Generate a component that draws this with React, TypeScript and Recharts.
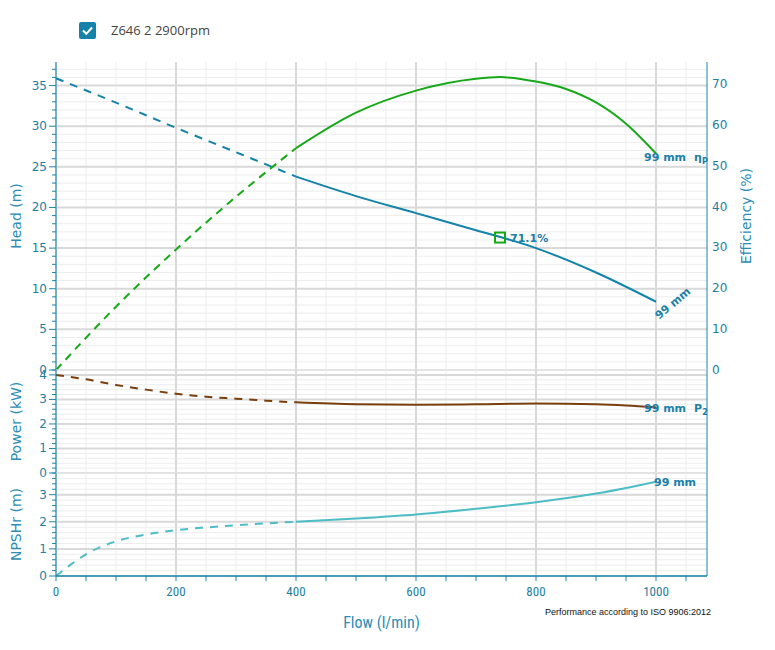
import React from "react";
import {
  CartesianGrid,
  ComposedChart,
  Line,
  LineChart,
  Scatter,
  XAxis,
  YAxis,
} from "recharts";

// curve readings (flow in l/min)
const headDashedFlow = [0, 100, 200, 300, 400];
const headDashedM = [35.9, 32.9, 29.8, 26.8, 23.8];
const headSolidFlow = [400, 500, 600, 700, 800, 900, 1000];
const headSolidM = [23.8, 21.4, 19.3, 17.2, 15.0, 12.0, 8.4];

const effDashedFlow = [0, 100, 200, 300, 400];
const effDashedPct = [0, 15.5, 29.5, 42.4, 54.3];
const effSolidFlow = [400, 500, 600, 700, 740, 800, 850, 900, 950, 1000];
const effSolidPct = [54.3, 63.0, 68.4, 71.3, 71.7, 70.6, 68.8, 65.5, 60.3, 53.0];

const powerDashedFlow = [0, 50, 100, 150, 200, 250, 300, 350, 400];
const powerDashedKw = [4.0, 3.82, 3.59, 3.4, 3.23, 3.11, 3.03, 2.95, 2.88];
const powerSolidFlow = [400, 500, 600, 700, 800, 900, 950, 1000];
const powerSolidKw = [2.88, 2.8, 2.78, 2.8, 2.83, 2.8, 2.75, 2.67];

const npshDashedFlow = [0, 25, 50, 100, 150, 200, 250, 300, 350, 400];
const npshDashedM = [0, 0.43, 0.8, 1.28, 1.53, 1.69, 1.79, 1.87, 1.94, 2.0];
const npshSolidFlow = [400, 500, 600, 700, 800, 900, 1000];
const npshSolidM = [2.0, 2.12, 2.27, 2.48, 2.72, 3.04, 3.48];

const bepFlow = [740];
const bepHead = [16.3];
const bepLabel = "71.1%";

const flowMajor = [0, 200, 400, 600, 800, 1000];
const headMajor = [0, 5, 10, 15, 20, 25, 30, 35];
const effTicks = [0, 10, 20, 30, 40, 50, 60, 70];
const powerMajor = [0, 1, 2, 3, 4];
const npshMajor = [0, 1, 2, 3];

const range = (from: number, to: number, step: number) => {
  const out: number[] = [];
  for (let v = from; v <= to + 1e-9; v += step) out.push(Math.round(v * 100) / 100);
  return out;
};
const flowMinor = range(0, 1050, 50);
const headMinor = range(0, 37, 1);
const powerMinor = range(0, 4.2, 0.2);
const npshMinor = range(0, 3.8, 0.2);

const zip = (xs: number[], ys: number[], key: string) =>
  xs.map((flow, i) => ({ flow, [key]: ys[i] }));

const headDashed = zip(headDashedFlow, headDashedM, "v");
const headSolid = zip(headSolidFlow, headSolidM, "v");
const effDashed = zip(effDashedFlow, effDashedPct, "v");
const effSolid = zip(effSolidFlow, effSolidPct, "v");
const powerDashed = zip(powerDashedFlow, powerDashedKw, "v");
const powerSolid = zip(powerSolidFlow, powerSolidKw, "v");
const npshDashed = zip(npshDashedFlow, npshDashedM, "v");
const npshSolid = zip(npshSolidFlow, npshSolidM, "v");
const bep = zip(bepFlow, bepHead, "v");

const AXIS = "#1b87aa";
const TICK = "#1f7ea1";
const TITLE = "#2b8db5";
const LABEL = "#1a80a6";
const HEAD = "#1483aa";
const EFF = "#17a817";
const POWER = "#7a3e0c";
const NPSH = "#4dbdc5";
const GRID_MINOR = "#ededed";
const GRID_MAJOR = "#d9d9d9";
const FLOW_DOMAIN = [0, 1085];
const W = 775;

const isMajor = (v: number, majors: number[]) =>
  majors.some((m) => Math.abs(m - v) < 1e-6);

const emptyTick = () => <g />;

const leftTick = (majors: number[]) => (p: any) => {
  const { x, y, payload } = p;
  const major = isMajor(payload.value, majors);
  return (
    <g>
      <line x1={x - (major ? 7 : 4)} x2={x} y1={y} y2={y} stroke={AXIS} />
      {major && (
        <text x={x - 9} y={y + 4} textAnchor="end" fill={TICK} fontSize={12} fontFamily="DejaVu Sans">
          {payload.value}
        </text>
      )}
    </g>
  );
};

const rightTick = (p: any) => (
  <text x={p.x + 5} y={p.y + 4} fill={TICK} fontSize={12} fontFamily="DejaVu Sans">
    {p.payload.value}
  </text>
);

const flowTick = (p: any) => {
  const { x, y, payload } = p;
  const major = isMajor(payload.value, flowMajor);
  return (
    <g>
      <line x1={x} x2={x} y1={y} y2={y + 5} stroke={AXIS} />
      {major && (
        <text x={x} y={y + 20} textAnchor="middle" fill={TICK} fontSize={13}
          fontFamily="'Liberation Sans Narrow', 'Roboto Condensed', Roboto">
          {payload.value}
        </text>
      )}
    </g>
  );
};

const axisTitle = (text: string, dx: number) => (p: any) => {
  const vb = p.viewBox;
  const cx = vb.x + dx;
  const cy = vb.y + vb.height / 2;
  return (
    <text x={cx} y={cy} transform={`rotate(-90, ${cx}, ${cy})`} textAnchor="middle"
      dominantBaseline="central" fill={TITLE} fontSize={14} fontFamily="DejaVu Sans">
      {text}
    </text>
  );
};

const endLabel = (count: number, render: (x: number, y: number) => React.ReactNode) =>
  (p: any) => (p.index === count - 1 ? <g key="end">{render(p.x, p.y)}</g> : <g key={p.index} />);

const boldText = { fill: LABEL, fontSize: 11, fontWeight: 700, fontFamily: "DejaVu Sans" };

const grids = (yId: string | number, hMinor: number[], hMajor: number[]) => [
  <CartesianGrid key="gmin" yAxisId={yId} stroke={GRID_MINOR} strokeWidth={1}
    horizontalValues={hMinor} verticalValues={flowMinor} />,
  <CartesianGrid key="gmaj" yAxisId={yId} stroke={GRID_MAJOR} strokeWidth={2}
    horizontalValues={hMajor} verticalValues={flowMajor} />,
];

function HeadPanel() {
  return (
    <ComposedChart width={W} height={390} margin={{ top: 62, right: 0, bottom: 20, left: 0 }}>
      {grids("head", headMinor, headMajor)}
      <XAxis dataKey="flow" type="number" domain={FLOW_DOMAIN} ticks={flowMinor} interval={0}
        height={0} tickSize={0} tick={emptyTick} tickLine={false}
        axisLine={{ stroke: AXIS, strokeWidth: 2 }} />
      <XAxis xAxisId="top" orientation="top" dataKey="flow" type="number" domain={FLOW_DOMAIN}
        height={0} tick={false} tickLine={false} axisLine={{ stroke: AXIS }} />
      <YAxis yAxisId="head" type="number" domain={[0, 37.9]} ticks={headMinor} interval={0}
        width={56} tickSize={0} tickMargin={0} tickLine={false} tick={leftTick(headMajor)}
        axisLine={{ stroke: AXIS }} label={{ content: axisTitle("Head (m)", 16) } as any} />
      <YAxis yAxisId="eff" orientation="right" type="number" domain={[0, 75.4]} ticks={effTicks}
        interval={0} width={68} tickSize={0} tickMargin={0} tickLine={false} tick={rightTick}
        axisLine={{ stroke: AXIS }} label={{ content: axisTitle("Efficiency (%)", 39) } as any} />
      <Line yAxisId="eff" data={effDashed} dataKey="v" type="monotone" stroke={EFF} strokeWidth={2}
        strokeDasharray="8 6" dot={false} isAnimationActive={false} />
      <Line yAxisId="eff" data={effSolid} dataKey="v" type="monotone" stroke={EFF} strokeWidth={2}
        dot={false} isAnimationActive={false}
        label={endLabel(effSolid.length, (x, y) => (
          <text x={x - 12} y={y + 7} {...boldText}>
            99 mm
            <tspan dx={8}>η</tspan>
            <tspan fontSize={8} dy={3}>P</tspan>
          </text>
        ))} />
      <Line yAxisId="head" data={headDashed} dataKey="v" type="monotone" stroke={HEAD} strokeWidth={2}
        strokeDasharray="8 7" dot={false} isAnimationActive={false} />
      <Line yAxisId="head" data={headSolid} dataKey="v" type="monotone" stroke={HEAD} strokeWidth={2}
        dot={false} isAnimationActive={false}
        label={endLabel(headSolid.length, (x, y) => (
          <text x={x + 3} y={y + 18} transform={`rotate(-40, ${x + 3}, ${y + 18})`} {...boldText}>
            99 mm
          </text>
        ))} />
      <Scatter yAxisId="head" data={bep} dataKey="v" isAnimationActive={false}
        shape={(p: any) => (
          <g>
            <rect x={p.cx - 5} y={p.cy - 5} width={10} height={10} fill="none" stroke={EFF} strokeWidth={2} />
            <text x={p.cx + 10} y={p.cy + 4} {...boldText}>{bepLabel}</text>
          </g>
        )} />
    </ComposedChart>
  );
}

function PowerPanel() {
  return (
    <LineChart width={W} height={145} margin={{ top: 20, right: 0, bottom: 22, left: 0 }}>
      {grids("pw", powerMinor, powerMajor)}
      <XAxis dataKey="flow" type="number" domain={FLOW_DOMAIN} ticks={flowMinor} interval={0}
        height={0} tickSize={0} tick={emptyTick} tickLine={false}
        axisLine={{ stroke: AXIS, strokeWidth: 2 }} />
      <XAxis xAxisId="top" orientation="top" dataKey="flow" type="number" domain={FLOW_DOMAIN}
        height={0} tick={false} tickLine={false} axisLine={{ stroke: AXIS, strokeWidth: 2 }} />
      <YAxis yAxisId="pw" type="number" domain={[0, 4.2]} ticks={powerMinor} interval={0}
        width={56} tickSize={0} tickMargin={0} tickLine={false} tick={leftTick(powerMajor)}
        axisLine={{ stroke: AXIS }} label={{ content: axisTitle("Power (kW)", 16) } as any} />
      <YAxis yAxisId="r" orientation="right" domain={[0, 1]} width={68} tick={false}
        tickLine={false} axisLine={{ stroke: AXIS }} />
      <Line yAxisId="pw" data={powerDashed} dataKey="v" type="monotone" stroke={POWER} strokeWidth={2}
        strokeDasharray="8 7" dot={false} isAnimationActive={false} />
      <Line yAxisId="pw" data={powerSolid} dataKey="v" type="monotone" stroke={POWER} strokeWidth={2}
        dot={false} isAnimationActive={false}
        label={endLabel(powerSolid.length, (x, y) => (
          <text x={x - 12} y={y + 4} {...boldText}>
            99 mm
            <tspan dx={8}>P</tspan>
            <tspan fontSize={8} dy={3}>2</tspan>
          </text>
        ))} />
    </LineChart>
  );
}

function NpshPanel() {
  return (
    <LineChart width={W} height={197} margin={{ top: 20, right: 0, bottom: 0, left: 0 }}>
      {grids("np", npshMinor, npshMajor)}
      <XAxis dataKey="flow" type="number" domain={FLOW_DOMAIN} ticks={flowMinor} interval={0}
        height={74} tickSize={0} tickMargin={0} tickLine={false} tick={flowTick}
        axisLine={{ stroke: AXIS, strokeWidth: 1.5 }}
        label={{
          content: (p: any) => (
            <text x={p.viewBox.x + p.viewBox.width / 2} y={p.viewBox.y + 52} textAnchor="middle"
              fill={TITLE} fontSize={16} fontFamily="'Liberation Sans Narrow', 'Roboto Condensed', Roboto">
              Flow (l/min)
            </text>
          ),
        } as any} />
      <YAxis yAxisId="np" type="number" domain={[0, 3.8]} ticks={npshMinor} interval={0}
        width={56} tickSize={0} tickMargin={0} tickLine={false} tick={leftTick(npshMajor)}
        axisLine={{ stroke: AXIS }} label={{ content: axisTitle("NPSHr (m)", 16) } as any} />
      <YAxis yAxisId="r" orientation="right" domain={[0, 1]} width={68} tick={false}
        tickLine={false} axisLine={{ stroke: AXIS }} />
      <Line yAxisId="np" data={npshDashed} dataKey="v" type="monotone" stroke={NPSH} strokeWidth={2}
        strokeDasharray="8 7" dot={false} isAnimationActive={false} />
      <Line yAxisId="np" data={npshSolid} dataKey="v" type="monotone" stroke={NPSH} strokeWidth={2}
        dot={false} isAnimationActive={false}
        label={endLabel(npshSolid.length, (x, y) => (
          <text x={x - 2} y={y + 4} {...boldText}>99 mm</text>
        ))} />
    </LineChart>
  );
}

export default function App() {
  return (
    <div style={{ position: "absolute", left: 0, top: 0, width: W, height: 650, background: "#fff" }}>
      <div style={{ position: "absolute", left: 79, top: 22, width: 17, height: 17, borderRadius: 2, background: "#1583a9" }}>
        <svg width={17} height={17}>
          <path d="M4 8.5 L7.3 11.8 L13 5.5" fill="none" stroke="#fff" strokeWidth={2} />
        </svg>
      </div>
      <div style={{ position: "absolute", left: 111, top: 21, fontSize: 13, color: "#444", fontFamily: "'Open Sans', sans-serif" }}>
        Z646 2 2900rpm
      </div>
      <div style={{ position: "absolute", left: 0, top: 0 }}><HeadPanel /></div>
      <div style={{ position: "absolute", left: 0, top: 350 }}><PowerPanel /></div>
      <div style={{ position: "absolute", left: 0, top: 453 }}><NpshPanel /></div>
      <div style={{ position: "absolute", left: 545, top: 607, fontSize: 9, color: "#111", fontFamily: "'Liberation Sans Narrow', 'Liberation Sans', sans-serif", whiteSpace: "nowrap" }}>
        Performance according to ISO 9906:2012
      </div>
    </div>
  );
}
